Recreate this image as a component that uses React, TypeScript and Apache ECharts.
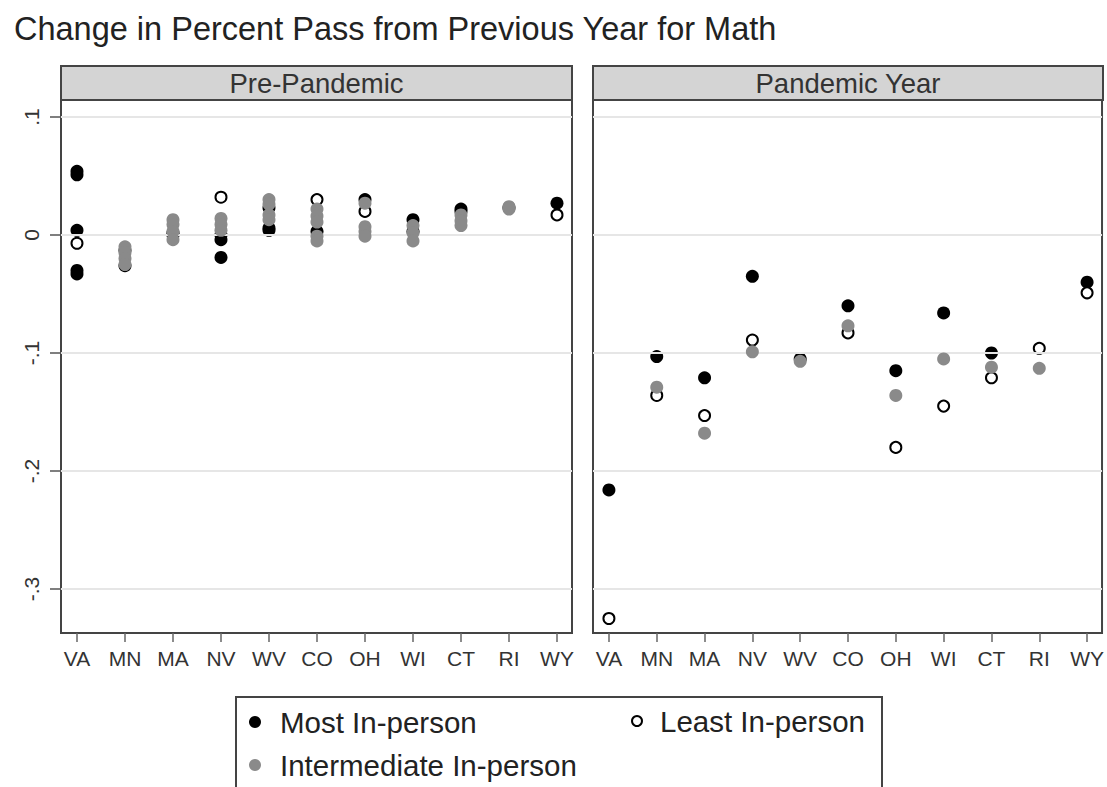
import React, { useEffect, useRef } from "react";
import * as echarts from "echarts";

const states = ["VA", "MN", "MA", "NV", "WV", "CO", "OH", "WI", "CT", "RI", "WY"];
const yTicks = [-0.3, -0.2, -0.1, 0, 0.1];
const panelTitles = ["Pre-Pandemic", "Pandemic Year"];
const seriesNames = ["Most In-person", "Least In-person", "Intermediate In-person"];

// Pre-pandemic: several year-to-year changes per state
const preMost: number[][] = [
  [0.054, 0.051, 0.004, -0.03, -0.033],
  [-0.013, -0.026],
  [0.002, 0.0],
  [0.0, -0.004, -0.019],
  [0.023, 0.006, 0.004],
  [0.003],
  [0.03],
  [0.013, 0.003],
  [0.022, 0.02],
  [0.023],
  [0.027],
];
const preLeast: number[][] = [
  [-0.007],
  [],
  [],
  [0.032],
  [],
  [0.03],
  [0.02],
  [],
  [],
  [],
  [0.017],
];
const preInter: number[][] = [
  [],
  [-0.01, -0.015, -0.02, -0.025],
  [0.013, 0.009, 0.003, -0.004],
  [0.014, 0.009, 0.004],
  [0.03, 0.026, 0.017, 0.013],
  [0.022, 0.016, 0.011, -0.001, -0.005],
  [0.027, 0.007, 0.003, -0.001],
  [0.008, 0.002, -0.005],
  [0.017, 0.012, 0.008],
  [0.024, 0.022],
  [],
];

// Pandemic year: one change per state
const panMost: (number | null)[] = [-0.216, -0.103, -0.121, -0.035, -0.105, -0.06, -0.115, -0.066, -0.1, null, -0.04];
const panLeast: (number | null)[] = [-0.325, -0.136, -0.153, -0.089, null, -0.083, -0.18, -0.145, -0.121, -0.096, -0.049];
const panInter: (number | null)[] = [null, -0.129, -0.168, -0.099, -0.107, -0.077, -0.136, -0.105, -0.112, -0.113, null];

const FONT = "'Liberation Sans', Arial, sans-serif";

function multiPoints(arr: number[][]) {
  return arr.flatMap((vals, i) => vals.map((v) => [i, v]));
}
function singlePoints(arr: (number | null)[]) {
  return arr.map((v, i) => (v === null ? null : [i, v])).filter((d) => d !== null) as number[][];
}
function fmtY(v: number) {
  if (Math.abs(v) < 1e-9) return "0";
  const n = Math.round(Math.abs(v) * 10);
  return (v < 0 ? "-" : "") + "." + n;
}

const styles = [
  { symbolSize: 13, itemStyle: { color: "#000000", opacity: 1 } },
  { symbolSize: 11, itemStyle: { color: "#ffffff", borderColor: "#000000", borderWidth: 2, opacity: 1 } },
  { symbolSize: 13, itemStyle: { color: "#8a8a8a", opacity: 1 } },
];

export default function App() {
  const ref = useRef<HTMLDivElement>(null);
  useEffect(() => {
    document.body.style.margin = "0";
    if (!ref.current) return;
    const chart = echarts.init(ref.current, undefined, { renderer: "svg" });

    const grids = [
      { left: 61, top: 100, width: 511, height: 533 },
      { left: 593, top: 100, width: 510, height: 533 },
    ];
    const xMin = -0.333;
    const xMax = 10.3125;
    const yMin = -0.33729;
    const yMax = 0.11441;
    const idx = states.map((_, i) => i);

    const xAxes = grids.map((_, g) => ({
      type: "value",
      gridIndex: g,
      min: xMin,
      max: xMax,
      position: "bottom",
      axisLine: { show: false, onZero: false },
      splitLine: { show: false },
      axisTick: { show: true, customValues: idx, length: 9, lineStyle: { color: "#666", width: 1.5 } },
      axisLabel: {
        customValues: idx,
        formatter: (v: number) => states[Math.round(v)] ?? "",
        fontSize: 21,
        color: "#333",
        fontFamily: FONT,
        margin: 15,
      },
    }));
    const yAxes = grids.map((_, g) => ({
      type: "value",
      gridIndex: g,
      min: yMin,
      max: yMax,
      position: "left",
      axisLine: { show: false, onZero: false },
      splitLine: { show: false },
      axisTick: g === 0 ? { show: true, customValues: yTicks, length: 11, lineStyle: { color: "#555", width: 1.5 } } : { show: false },
      axisLabel:
        g === 0
          ? { customValues: yTicks, rotate: 90, formatter: fmtY, fontSize: 21, color: "#333", fontFamily: FONT, margin: 19 }
          : { show: false },
    }));

    const series: any[] = [];
    for (let g = 0; g < 2; g++) {
      series.push({
        type: "scatter",
        name: "grid" + g,
        xAxisIndex: g,
        yAxisIndex: g,
        data: [],
        z: 1,
        silent: true,
        markLine: {
          silent: true,
          symbol: ["none", "none"],
          label: { show: false },
          lineStyle: { color: "#e6e6e6", width: 2, type: "solid" },
          data: yTicks.map((t) => ({ yAxis: t })),
          animation: false,
        },
      });
    }
    const preData = [multiPoints(preMost), multiPoints(preLeast), multiPoints(preInter)];
    const panData = [singlePoints(panMost), singlePoints(panLeast), singlePoints(panInter)];
    [preData, panData].forEach((sets, g) => {
      sets.forEach((data, s) => {
        series.push({
          type: "scatter",
          name: seriesNames[s],
          xAxisIndex: g,
          yAxisIndex: g,
          data,
          symbol: "circle",
          symbolSize: styles[s].symbolSize,
          itemStyle: styles[s].itemStyle,
          z: 3 + s,
        });
      });
    });

    const stripGraphics = grids.map((gr, g) => ({
      type: "group",
      children: [
        {
          type: "rect",
          shape: { x: gr.left, y: 66, width: gr.width, height: 34 },
          style: { fill: "#d4d4d4", stroke: "#444", lineWidth: 2 },
        },
        {
          type: "text",
          x: gr.left + gr.width / 2,
          y: 83,
          style: {
            text: panelTitles[g],
            fontSize: 27.5,
            fontFamily: FONT,
            fill: "#333",
            align: "center",
            verticalAlign: "middle",
          },
        },
      ],
    }));

    const legendItems = [
      { x: 255, y: 722, tx: 280, s: 0 },
      { x: 637, y: 721, tx: 660, s: 1 },
      { x: 255, y: 765, tx: 280, s: 2 },
    ];
    const legendGraphics = [
      {
        type: "rect",
        shape: { x: 236, y: 697, width: 646, height: 110 },
        style: { fill: "#fff", stroke: "#444", lineWidth: 2 },
      },
      ...legendItems.flatMap((it) => {
        const st = styles[it.s];
        return [
          {
            type: "circle",
            shape: { cx: it.x, cy: it.y, r: it.s === 1 ? 5 : 6 },
            style:
              it.s === 1
                ? { fill: "#fff", stroke: "#000", lineWidth: 2 }
                : { fill: (st.itemStyle as any).color },
          },
          {
            type: "text",
            x: it.tx,
            y: it.y,
            style: {
              text: seriesNames[it.s],
              fontSize: 29.5,
              fontFamily: FONT,
              fill: "#222",
              verticalAlign: "middle",
            },
          },
        ];
      }),
    ];

    chart.setOption({
      animation: false,
      backgroundColor: "#ffffff",
      title: {
        text: "Change in Percent Pass from Previous Year for Math",
        left: 9,
        top: 7,
        textStyle: { fontSize: 32.5, fontWeight: "normal", color: "#222", fontFamily: FONT },
      },
      grid: grids.map((gr) => ({ ...gr, show: true, borderColor: "#444", borderWidth: 2, backgroundColor: "#fff" })),
      xAxis: xAxes,
      yAxis: yAxes,
      series,
      graphic: [...stripGraphics, ...legendGraphics],
    });
    return () => chart.dispose();
  }, []);
  return <div ref={ref} style={{ width: 1107, height: 787 }} />;
}
